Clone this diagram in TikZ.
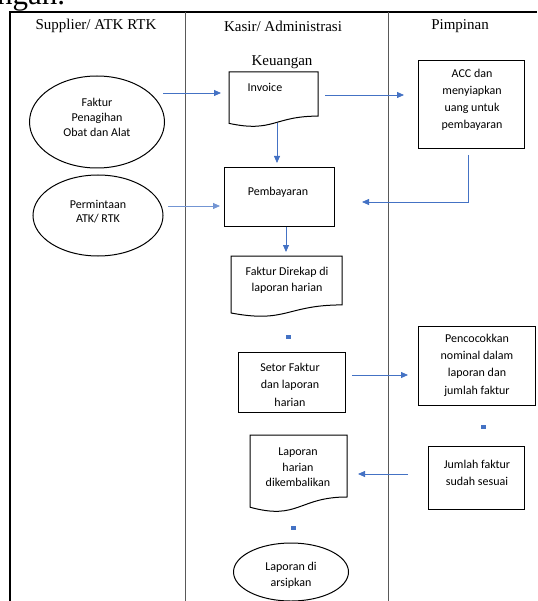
\documentclass[tikz,border=0pt]{standalone}
\usepackage{fontspec}
\setmainfont{Liberation Serif}
\newfontfamily\calfont{Carlito}
\usetikzlibrary{arrows.meta,shapes.geometric}
\definecolor{arrblue}{HTML}{4472C4}
\newcommand{\docpath}[4]{% x y w h
  \draw[shp] (#1,#2) -- ({#1+#3},#2) -- ({#1+#3},{#2+0.802*#4})
    .. controls ({#1+0.5*#3},{#2+0.802*#4}) and ({#1+0.5*#3},{#2+1.107*#4}) .. (#1,{#2+0.934*#4}) -- cycle;}
\begin{document}
\begin{tikzpicture}[x=1pt,y=-1pt,
  hdr/.style={font=\fontsize{15}{18}\selectfont, inner sep=0pt},
  lbl/.style={font=\calfont\fontsize{12}{17}\selectfont, align=center, inner sep=0pt},
  shp/.style={draw=black, line width=1pt},
  boxn/.style={shp, rectangle, inner sep=0pt},
  elln/.style={shp, ellipse, inner sep=0pt},
  arr/.style={draw=arrblue, line width=0.8pt, -{Triangle[length=7pt,width=6pt]}},
  dotm/.style={fill=arrblue, minimum width=5pt, minimum height=4pt, inner sep=0pt}]
\useasboundingbox (0,0) rectangle (537,601);
% cut text at top
\node[anchor=base west, font=\fontsize{31}{31}\selectfont, inner sep=0pt] (cut) at (-3,5) {ngan.};
% frame
\draw[line width=1.5pt] (9,12) -- (537,12);
\draw[line width=2pt] (10,12) -- (10,601);
\draw[black!65, line width=0.8pt] (185,12) -- (185,601);
\draw[black!65, line width=0.8pt] (388,12) -- (388,601);
% headers
\node[hdr] (h1) at (96,26) {Supplier/ ATK RTK};
\node[hdr] (h2) at (283,26) {Kasir/ Administrasi};
\node[hdr] (h2b) at (282,62) {Keuangan};
\node[hdr] (h3) at (460,26) {Pimpinan};
% ellipses
\node[elln, minimum width=135pt, minimum height=92pt] (e1) at (97,122) {};
\node[lbl, font=\calfont\fontsize{12}{15}\selectfont] (e1t) at (97,117) {Faktur\\Penagihan\\Obat dan Alat};
\node[elln, minimum width=130pt, minimum height=81pt] (e2) at (98,215.5) {};
\node[lbl, font=\calfont\fontsize{12}{14}\selectfont] (e2t) at (98,212) {Permintaan\\ATK/ RTK};
\node[elln, minimum width=115pt, minimum height=58pt] (e3) at (291,572) {};
\node[lbl, font=\calfont\fontsize{12}{16}\selectfont] (e3t) at (291,575) {Laporan di\\arsipkan};
% boxes
\node[boxn, minimum width=106pt, minimum height=88pt] (acc) at (471,105) {};
\node[lbl] (acct) at (472,99.5) {ACC dan\\menyiapkan\\uang untuk\\pembayaran};
\node[boxn, minimum width=110pt, minimum height=59pt] (pem) at (279,197.5) {};
\node[lbl] (pemt) at (278,192) {Pembayaran};
\node[boxn, minimum width=107pt, minimum height=60pt] (set) at (291.5,382) {};
\node[lbl, font=\calfont\fontsize{12}{17.5}\selectfont] (sett) at (290,384.5) {Setor Faktur\\dan laporan\\harian};
\node[boxn, minimum width=117pt, minimum height=79pt] (pen) at (476.5,365.5) {};
\node[lbl, font=\calfont\fontsize{12}{17.3}\selectfont] (pent) at (477,365) {Pencocokkan\\nominal dalam\\laporan dan\\jumlah faktur};
\node[boxn, minimum width=96pt, minimum height=63pt] (jum) at (476,477.5) {};
\node[lbl] (jumt) at (477,472.5) {Jumlah faktur\\sudah sesuai};
% documents
\docpath{229}{72}{89}{55}
\node[lbl] (inv) at (265,87) {Invoice};
\docpath{231}{256}{111}{61}
\node[lbl, font=\calfont\fontsize{12}{16}\selectfont] (fak) at (287,280) {Faktur Direkap di\\laporan harian};
\docpath{250}{435}{97}{77.3}
\node[lbl, font=\calfont\fontsize{12}{15.5}\selectfont] (lap) at (298,467.5) {Laporan\\harian\\dikembalikan};
% connector end points
\coordinate (a1s) at (163,93);  \coordinate (a1e) at (221,93);
\coordinate (a2s) at (325,95);  \coordinate (a2e) at (404,95);
\coordinate (a3s) at (277,123); \coordinate (a3e) at (277,163);
\coordinate (a4s) at (468,155); \coordinate (a4e) at (362,202);
\coordinate (a5s) at (168,206); \coordinate (a5e) at (220,206);
\coordinate (a6s) at (286,227); \coordinate (a6e) at (286,252);
\coordinate (a7s) at (352,375); \coordinate (a7e) at (408,375);
\coordinate (a8s) at (408,474); \coordinate (a8e) at (358,474);
\draw[arr] (a1s) -- (a1e);
\draw[arr] (a2s) -- (a2e);
\draw[arr] (a3s) -- (a3e);
\draw[arr] (a4s) |- (a4e);
\draw[arr, draw=arrblue!75] (a5s) -- (a5e);
\draw[arr] (a6s) -- (a6e);
\draw[arr] (a7s) -- (a7e);
\draw[arr] (a8s) -- (a8e);
% collapsed connectors
\node[dotm] (d1) at (288,337) {};
\node[dotm] (d2) at (483,427) {};
\node[dotm] (d3) at (293,528) {};
\end{tikzpicture}
\end{document}
